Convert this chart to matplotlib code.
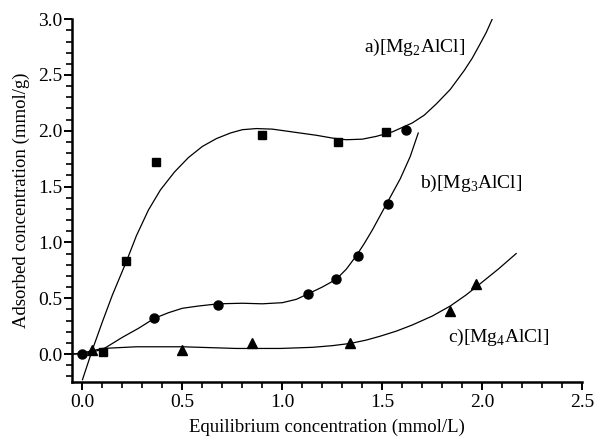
import numpy as np
import matplotlib
matplotlib.use("Agg")
import matplotlib.pyplot as plt
from matplotlib.ticker import MultipleLocator

plt.rcParams['font.family'] = ['Liberation Serif', 'DejaVu Serif']
plt.rcParams['mathtext.fontset'] = 'custom'
plt.rcParams['mathtext.rm'] = 'Liberation Serif'

# measured points
sq_x = [0.105, 0.22, 0.366, 0.896, 1.28, 1.52]
sq_y = [0.02, 0.83, 1.72, 1.96, 1.90, 1.99]
ci_x = [0.0, 0.36, 0.68, 1.13, 1.27, 1.38, 1.53, 1.62]
ci_y = [0.0, 0.32, 0.44, 0.54, 0.67, 0.88, 1.34, 2.01]
tr_x = [0.05, 0.50, 0.85, 1.34, 1.84, 1.97]
tr_y = [0.04, 0.04, 0.10, 0.10, 0.39, 0.63]

# fitted curves
fit_a_x = [0.0, 0.05, 0.10, 0.15, 0.22, 0.27, 0.33, 0.39, 0.46, 0.53, 0.60, 0.67,
           0.74, 0.80, 0.87, 0.95, 1.05, 1.17, 1.25, 1.32, 1.40, 1.47, 1.55, 1.60,
           1.65, 1.71, 1.77, 1.84, 1.91, 1.95, 1.99, 2.02, 2.05]
fit_a_y = [-0.23, 0.04, 0.29, 0.53, 0.83, 1.06, 1.29, 1.47, 1.63, 1.76, 1.86, 1.93,
           1.98, 2.01, 2.02, 2.015, 1.99, 1.96, 1.935, 1.92, 1.925, 1.95, 1.99, 2.03,
           2.07, 2.14, 2.24, 2.37, 2.54, 2.65, 2.78, 2.88, 3.0]
fit_b_x = [-0.05, 0.0, 0.10, 0.20, 0.28, 0.36, 0.43, 0.50, 0.58, 0.68, 0.80, 0.90,
           1.00, 1.07, 1.13, 1.20, 1.27, 1.32, 1.37, 1.41, 1.45, 1.52, 1.59, 1.64, 1.68]
fit_b_y = [0.0, 0.0, 0.04, 0.15, 0.23, 0.32, 0.37, 0.41, 0.43, 0.45, 0.455, 0.45,
           0.46, 0.49, 0.54, 0.60, 0.67, 0.76, 0.88, 0.99, 1.11, 1.34, 1.57, 1.77, 1.98]
fit_c_x = [-0.05, 0.0, 0.10, 0.27, 0.50, 0.77, 0.99, 1.15, 1.25, 1.34, 1.42, 1.49,
           1.57, 1.65, 1.75, 1.84, 1.92, 1.99, 2.08, 2.17]
fit_c_y = [0.0, 0.01, 0.05, 0.065, 0.065, 0.05, 0.05, 0.06, 0.075, 0.095, 0.125, 0.16,
           0.205, 0.26, 0.34, 0.43, 0.53, 0.63, 0.76, 0.90]

labels = ['a)[Mg$_2$AlCl]', 'b)[Mg$_3$AlCl]', 'c)[Mg$_4$AlCl]']
label_pos = [(1.41, 2.75), (1.69, 1.53), (1.83, 0.15)]

fig = plt.figure(figsize=(5.94, 4.36), dpi=100)
ax = fig.add_axes([0.122, 0.124, 0.858, 0.832])

ax.plot(fit_a_x, fit_a_y, color='black', lw=0.9)
ax.plot(fit_b_x, fit_b_y, color='black', lw=0.9)
ax.plot(fit_c_x, fit_c_y, color='black', lw=0.9)

ax.plot(sq_x, sq_y, 's', color='black', ms=6, ls='none')
ax.plot(ci_x, ci_y, 'o', color='black', ms=6.5, ls='none')
ax.plot(tr_x, tr_y, '^', color='black', ms=7, ls='none')

for txt, (tx, ty) in zip(labels, label_pos):
    ax.text(tx, ty, txt, fontsize=14, va='center', ha='left')

ax.set_xlim(-0.05, 2.5)
ax.set_ylim(-0.25, 3.0)
ax.xaxis.set_major_locator(MultipleLocator(0.5))
ax.xaxis.set_minor_locator(MultipleLocator(0.1))
ax.yaxis.set_major_locator(MultipleLocator(0.5))
ax.yaxis.set_minor_locator(MultipleLocator(0.1))
ax.xaxis.set_major_formatter(plt.FormatStrFormatter('%.1f'))
ax.yaxis.set_major_formatter(plt.FormatStrFormatter('%.1f'))

for s in ['top', 'right']:
    ax.spines[s].set_visible(False)
for s in ['left', 'bottom']:
    ax.spines[s].set_linewidth(1.8)

ax.tick_params(which='major', direction='out', length=6, width=1.4, labelsize=14)
ax.tick_params(which='minor', direction='out', length=4, width=1.2)
ax.tick_params(axis='y', pad=1)
ax.tick_params(axis='x', pad=3)

ax.set_xlabel('Equilibrium concentration (mmol/L)', fontsize=13.5, labelpad=5)
ax.set_ylabel('Adsorbed concentration (mmol/g)', fontsize=13.5, labelpad=6)

fig.savefig('out.png', dpi=100)
